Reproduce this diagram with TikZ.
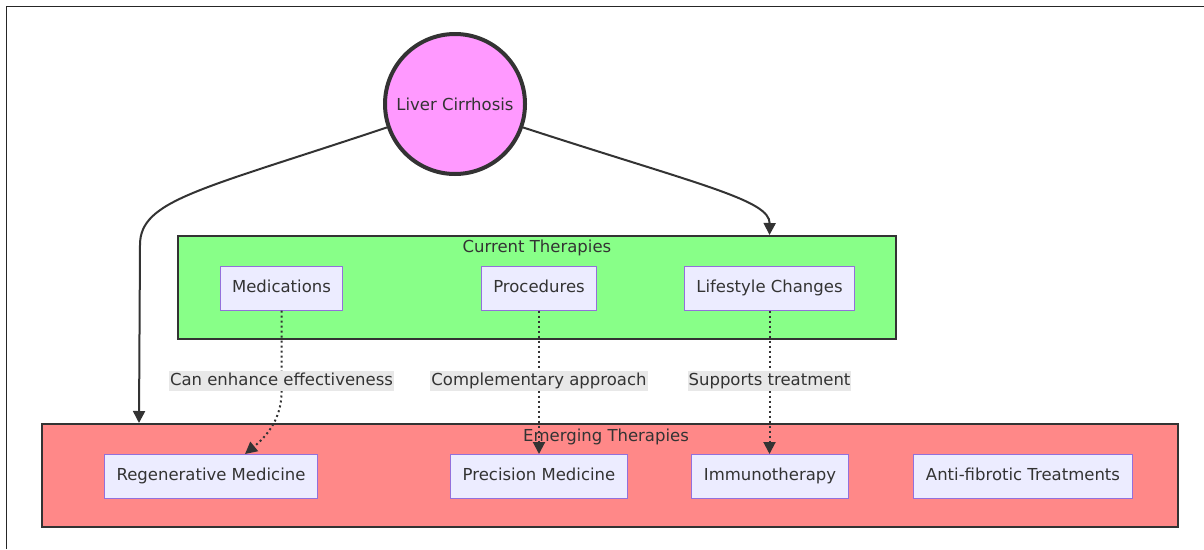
\documentclass[tikz,border=0pt]{standalone}
\usepackage{fontspec}
\setmainfont{DejaVu Sans}
\usepackage{tikz}
\usetikzlibrary{
    arrows.meta,
    shapes.geometric,
    positioning,
    calc
}
\usepackage{xcolor}
\definecolor{ink}{HTML}{333333}
\definecolor{rootpink}{HTML}{FF99FF}
\definecolor{curgreen}{HTML}{88FF88}
\definecolor{emgred}{HTML}{FF8888}
\definecolor{boxfill}{HTML}{ECECFF}
\definecolor{boxline}{HTML}{9370DB}
\definecolor{labelbg}{HTML}{E8E8E8}
\tikzstyle{root} = [
    circle,
    draw=ink,
    line width=4pt,
    fill=rootpink,
    minimum size=140pt,
    inner sep=0pt,
    text=ink,
    font=\fontsize{16.5}{19}\selectfont
]
\tikzstyle{group} = [
    rectangle,
    draw=ink,
    line width=2pt,
    inner sep=0pt
]
\tikzstyle{grouptitle} = [
    anchor=north,
    inner sep=0pt,
    text=ink,
    font=\fontsize{16.5}{19}\selectfont
]
\tikzstyle{therapy} = [
    rectangle,
    draw=boxline,
    fill=boxfill,
    line width=1pt,
    minimum height=44pt,
    inner xsep=12pt,
    text height=12pt,
    text depth=3.5pt,
    text=ink,
    font=\fontsize{16.5}{19}\selectfont
]
\tikzstyle{edgelabel} = [
    fill=labelbg,
    inner xsep=1pt,
    inner ysep=2pt,
    text height=12pt,
    text depth=3.5pt,
    text=ink,
    font=\fontsize{16.5}{19}\selectfont
]
\tikzstyle{arrow} = [
    -{Triangle[length=12pt, width=12pt]},
    line width=2pt,
    draw=ink
]
\tikzstyle{dotarrow} = [
    arrow,
    line width=2pt,
    dash pattern=on 2pt off 3pt
]

\begin{document}
\begin{tikzpicture}[x=1pt, y=-1pt]
        \useasboundingbox (0,0) rectangle (1204,549);

        % Frame
        \draw[line width=1pt, draw=black!85] (6.5,549) -- (6.5,6.5) -- (1204,6.5);

        % Subgraphs
        \node[group, fill=curgreen, minimum width=718pt, minimum height=103pt] (current) at (537,287.5) {};
        \node[grouptitle] (currenttitle) at ([yshift=-5pt]current.north) {Current Therapies};
        \node[group, fill=emgred, minimum width=1136pt, minimum height=103pt] (emerging) at (610,475.5) {};
        \node[grouptitle] (emergingtitle) at ([xshift=-4pt, yshift=-6pt]emerging.north) {Emerging Therapies};

        % Root
        \node[root] (liver) at (455,104) {Liver Cirrhosis};

        % Current therapies
        \node[therapy] (meds) at (281.5,288) {Medications};
        \node[therapy] (procs) at (539,288) {Procedures};
        \node[therapy] (life) at (769.5,288) {Lifestyle Changes};

        % Emerging therapies
        \node[therapy] (regen) at (211,476.5) {Regenerative Medicine};
        \node[therapy] (precision) at (539,476.5) {Precision Medicine};
        \node[therapy] (immuno) at (770,476.5) {Immunotherapy};
        \node[therapy] (antifib) at (1023,476.5) {Anti-fibrotic Treatments};

        % Arrows from root
        \coordinate (emergingin) at ([xshift=98pt]emerging.north west);
        \draw[arrow] (liver.199) .. controls (200,190) and (140,200) .. (140,245) -- (emergingin);
        \draw[arrow] (liver.-19) .. controls (700,185) and (770,200) .. (current.north -| life);

        % Dotted links
        \draw[dotarrow] (meds.south) -- ++(0,82) .. controls ++(0,30) and (262,440) .. ([xshift=34pt]regen.north);
        \draw[dotarrow] (procs.south) -- (precision.north);
        \draw[dotarrow] (life.south) -- (life.south |- immuno.north);

        % Link labels
        \node[edgelabel] (lbl1) at (meds.south |- 0,381) {Can enhance effectiveness};
        \node[edgelabel] (lbl2) at (procs.south |- 0,381) {Complementary approach};
        \node[edgelabel] (lbl3) at (life.south |- 0,381) {Supports treatment};
    \end{tikzpicture}
\end{document}
